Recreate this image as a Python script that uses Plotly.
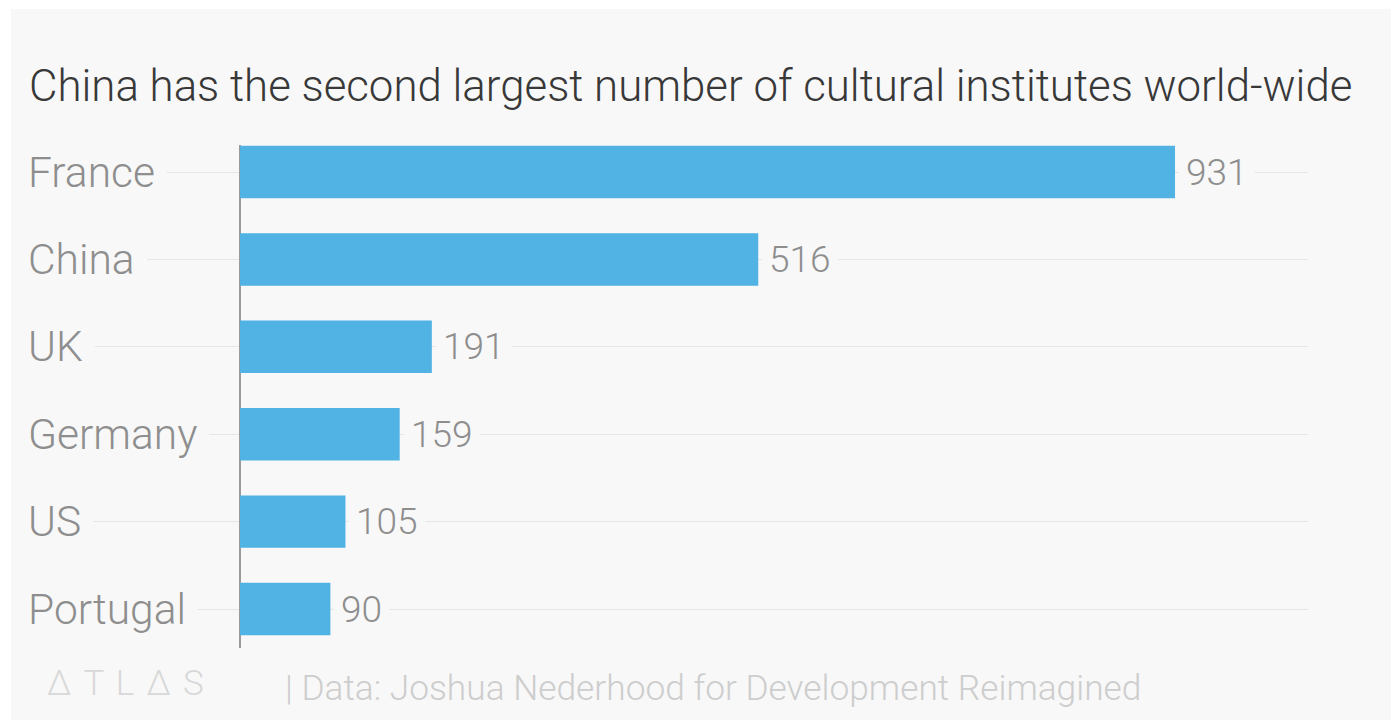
import plotly.graph_objects as go

categories = ["France", "China", "UK", "Germany", "US", "Portugal"]
values = [931, 516, 191, 159, 105, 90]
title_text = "China has the second largest number of cultural institutes world-wide"
source_text = "| Data: Joshua Nederhood for Development Reimagined"
logo_text = "Δ \u200aT \u200aL \u200aΔ \u200aS"

PANEL = "#f8f8f8"
BAR = "#51b2e4"

# page offset (browser body margin)
OFF = 8
# plot area in page pixels: x 28..1308, y 145..648
L, R, T, B = 28 - OFF, 1308 - OFF, 145 - OFF, 648 - OFF
pw, ph = R - L, B - T


def px_x(p):
    return (p - OFF - L) / pw


def px_y(p):
    return (B - (p - OFF)) / ph


fig = go.Figure()
fig.add_trace(go.Bar(
    x=values, y=categories, orientation="h",
    marker=dict(color=BAR, line=dict(width=0)),
    width=0.6, hoverinfo="skip",
))

for c, v in zip(categories, values):
    fig.add_annotation(
        x=0, xref="paper", y=c, yref="y", text=c, showarrow=False,
        xanchor="left", yanchor="middle", xshift=-12,
        font=dict(family="Roboto", size=42.5, color="#8e8e8e", weight=300),
        bgcolor=PANEL, borderpad=12, borderwidth=0,
    )
    fig.add_annotation(
        x=v, xref="x", y=c, yref="y", text=str(v), showarrow=False,
        xanchor="left", yanchor="middle", xshift=4,
        font=dict(family="Roboto", size=37, color="#8e8e8e", weight=300),
        bgcolor=PANEL, borderpad=7, borderwidth=0,
    )

fig.add_annotation(x=px_x(27), y=px_y(86), xref="paper", yref="paper",
                   text=title_text, showarrow=False, xanchor="left", yanchor="middle",
                   font=dict(family="Roboto", size=43.8, color="#383838", weight=300))
fig.add_annotation(x=px_x(45), y=px_y(683), xref="paper", yref="paper",
                   text=logo_text, showarrow=False, xanchor="left", yanchor="middle",
                   font=dict(family="Roboto", size=35, color="#d8d8d8", weight=300))
fig.add_annotation(x=px_x(283), y=px_y(688), xref="paper", yref="paper",
                   text=source_text, showarrow=False, xanchor="left", yanchor="middle",
                   font=dict(family="Roboto", size=35.3, color="#cdcdcd", weight=300))

fig.update_layout(
    width=1399, height=720,
    margin=dict(l=L, r=1399 - R, t=T, b=720 - B, pad=0),
    paper_bgcolor="white", plot_bgcolor=PANEL,
    showlegend=False,
    xaxis=dict(range=[-211.1, 1063.4], showgrid=False, showticklabels=False,
               zeroline=True, zerolinecolor="#9a9a9a", zerolinewidth=1.5,
               fixedrange=True),
    yaxis=dict(categoryorder="array", categoryarray=categories,
               range=[5.446, -0.309], showgrid=True, gridcolor="#e6e6e6",
               gridwidth=1, showticklabels=False, zeroline=False, fixedrange=True),
    shapes=[dict(type="rect", xref="paper", yref="paper", layer="below",
                 x0=px_x(11), x1=px_x(1420), y0=px_y(740), y1=px_y(9),
                 fillcolor=PANEL, line=dict(width=0))],
)

fig.write_html("out.html")
